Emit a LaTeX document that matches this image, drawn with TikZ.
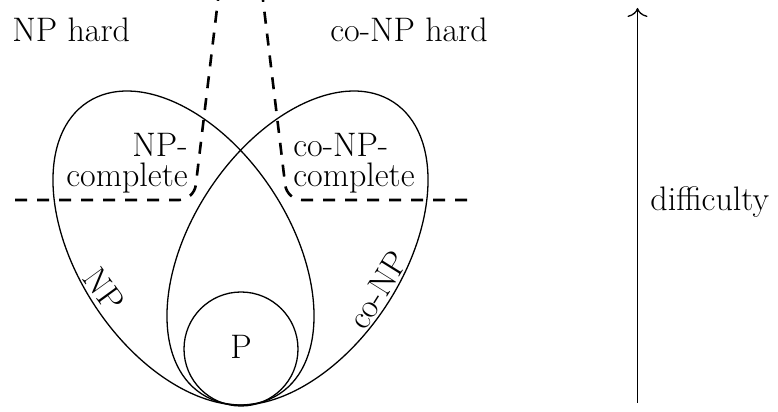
\documentclass[tikz,border=0pt]{standalone}
\usetikzlibrary{arrows.meta}
\begin{document}
\begin{tikzpicture}[x=0.5pt,y=0.5pt,
  setline/.style={line width=0.65pt},
  sepline/.style={line width=1.3pt, dash pattern=on 6pt off 5pt, rounded corners=7.5pt},
  lbl/.style={inner sep=0pt, font=\fontsize{17}{15}\selectfont},
  every node/.style={lbl}]
\useasboundingbox (0,0) rectangle (778,412);
% sets
\draw[setline, rotate around={-56.6:(183.5,164)}] (183.5,164) ellipse [x radius=174.6, y radius=105.8];
\draw[setline, rotate around={56.6:(297.5,164)}] (297.5,164) ellipse [x radius=174.6, y radius=105.8];
\draw[setline] (241,63) circle [radius=57];
% separators
\coordinate (l0) at (15,212);
\coordinate (l1) at (194,212);
\coordinate (l2) at (218,412);
\coordinate (r0) at (467,212);
\coordinate (r1) at (287,212);
\coordinate (r2) at (263,412);
\draw[sepline] (l0) -- (l1) -- (l2);
\draw[sepline] (r0) -- (r1) -- (r2);
% labels
\node[anchor=base west] (nph) at (12,370) {NP hard};
\node[anchor=base west] (conph) at (330,370) {co-NP hard};
\node[anchor=north east, align=right] (npc) at (188,279) {NP-\\complete};
\node[anchor=north west, align=left] (conpc) at (293,279) {co-NP-\\complete};
\node[rotate=-54] (np) at (104,122) {NP};
\node[rotate=58] (conp) at (378,122) {co-NP};
\node (p) at (241,65) {P};
% difficulty axis
\coordinate (a0) at (637.5,9);
\coordinate (a1) at (637.5,404);
\draw[setline, -{Computer Modern Rightarrow[length=4.5pt,width=10pt]}] (a0) -- (a1);
\node[anchor=west] (diff) at (650,210) {difficulty};
\end{tikzpicture}
\end{document}
